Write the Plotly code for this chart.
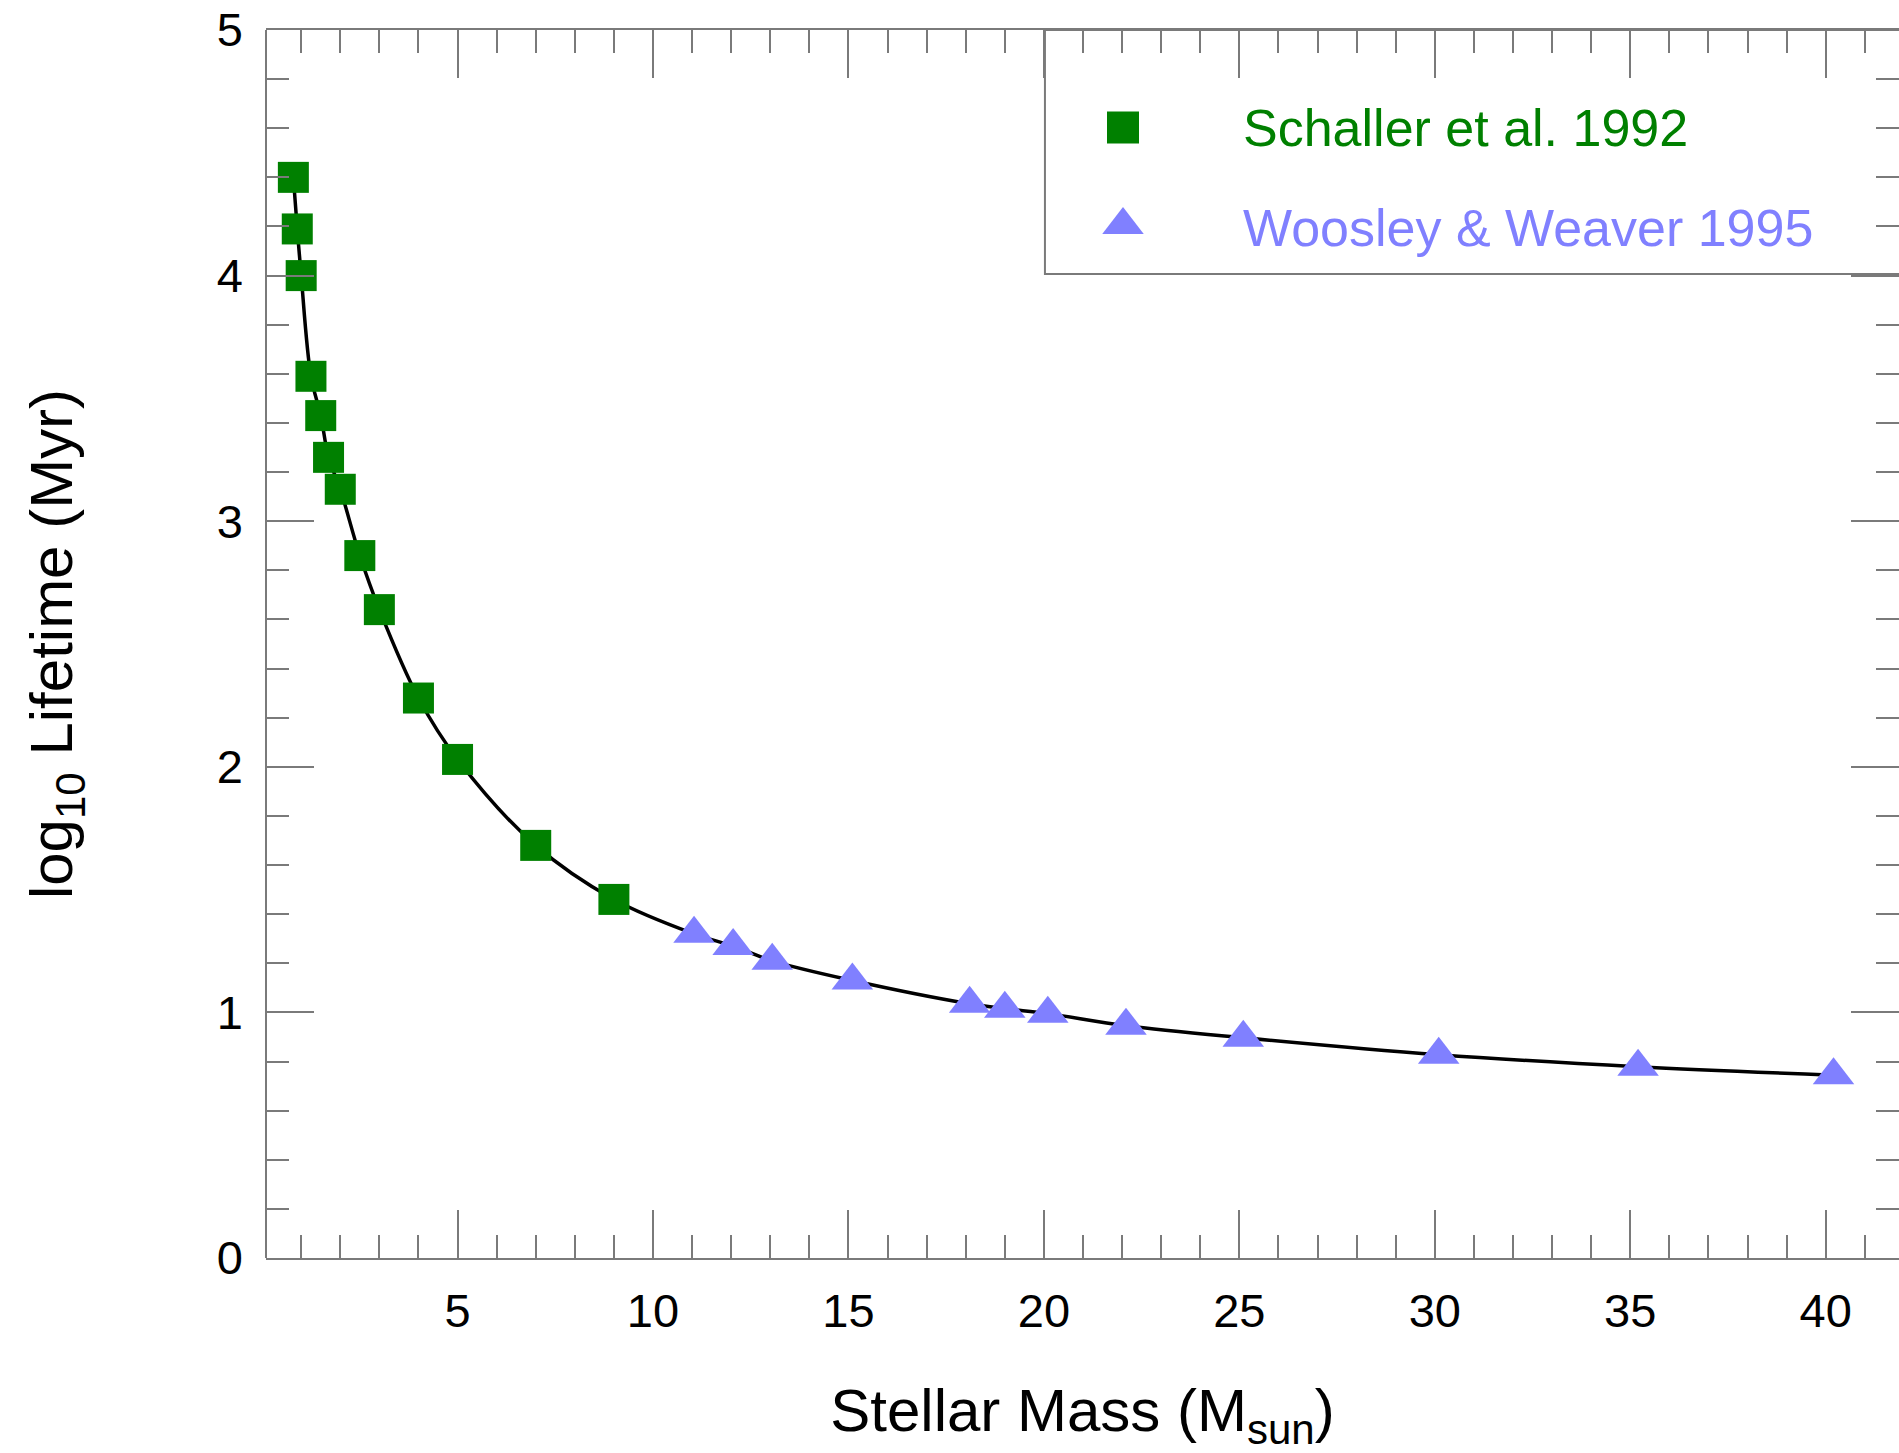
import plotly.graph_objects as go

# Data
schaller_mass = [0.8, 0.9, 1.0, 1.25, 1.5, 1.7, 2.0, 2.5, 3.0, 4.0, 5.0, 7.0, 9.0]
schaller_loglife = [4.40, 4.19, 4.00, 3.59, 3.43, 3.26, 3.13, 2.86, 2.64, 2.28, 2.03, 1.68, 1.46]

ww_mass = [11.05, 12.05, 13.05, 15.1, 18.1, 19.0, 20.1, 22.1, 25.1, 30.1, 35.2, 40.2]
ww_loglife = [1.32, 1.27, 1.21, 1.13, 1.035, 1.015, 0.995, 0.946, 0.897, 0.828, 0.779, 0.744]

legend_labels = ["Schaller et al. 1992", "Woosley & Weaver 1995"]

GREEN = "#008000"
BLUE = "#8080FF"
GREY = "#7a7a7a"
FONT = "Liberation Sans"

fig = go.Figure()

# Smooth curve through all points
curve_x = schaller_mass + ww_mass
curve_y = schaller_loglife + ww_loglife
fig.add_trace(go.Scatter(x=curve_x, y=curve_y, mode="lines",
                         line=dict(color="black", width=3.5, shape="spline", smoothing=1.0),
                         showlegend=False, hoverinfo="skip"))

fig.add_trace(go.Scatter(x=schaller_mass, y=schaller_loglife, mode="markers",
                         marker=dict(symbol="square", size=31, color=GREEN),
                         name=legend_labels[0], showlegend=False))
fig.add_trace(go.Scatter(x=ww_mass, y=ww_loglife, mode="markers",
                         marker=dict(symbol="triangle-up", size=36, color=BLUE),
                         name=legend_labels[1], showlegend=False))

# Custom legend (large symbols) drawn on a hidden overlay axis
fig.add_trace(go.Scatter(x=[0.5248], y=[0.9206], mode="markers", xaxis="x2", yaxis="y2",
                         marker=dict(symbol="square", size=32, color=GREEN),
                         showlegend=False, hoverinfo="skip"))
fig.add_trace(go.Scatter(x=[0.5248], y=[0.8412], mode="markers", xaxis="x2", yaxis="y2",
                         marker=dict(symbol="triangle-up", size=36, color=BLUE),
                         showlegend=False, hoverinfo="skip"))

fig.add_annotation(x=0.597, y=0.9206, xref="paper", yref="paper", text=legend_labels[0],
                   showarrow=False, xanchor="left", yanchor="middle",
                   font=dict(family=FONT, size=52, color=GREEN))
fig.add_annotation(x=0.597, y=0.8388, xref="paper", yref="paper", text=legend_labels[1],
                   showarrow=False, xanchor="left", yanchor="middle",
                   font=dict(family=FONT, size=52, color=BLUE))

# Legend box
fig.add_shape(type="rect", xref="paper", yref="paper", x0=0.477, x1=1.02, y0=0.8013, y1=1.0,
              line=dict(color=GREY, width=2), fillcolor="rgba(0,0,0,0)", layer="below")
# Left frame line
fig.add_shape(type="line", xref="paper", yref="paper", x0=0, x1=0, y0=0, y1=1,
              line=dict(color=GREY, width=2))

fig.update_layout(
    width=1899, height=1453,
    margin=dict(l=266, r=0, t=30, b=195),
    paper_bgcolor="white", plot_bgcolor="white",
    font=dict(family=FONT, color="black"),
    showlegend=False,
    xaxis=dict(
        range=[0.1, 41.875], tick0=0, dtick=5,
        ticks="inside", ticklen=48, tickwidth=2, tickcolor=GREY,
        showline=True, linecolor=GREY, linewidth=2, mirror="ticks",
        minor=dict(ticks="inside", ticklen=23, tickwidth=2, tickcolor=GREY, dtick=1, tick0=0),
        showgrid=False, zeroline=False,
        tickfont=dict(size=47, family=FONT, color="black"),
        ticklabelstandoff=11,
        title=dict(text="Stellar Mass (M<sub>sun</sub>)", font=dict(size=60, family=FONT, color="black"),
                   standoff=57),
    ),
    yaxis=dict(
        range=[0, 5], tick0=0, dtick=1,
        ticks="inside", ticklen=48, tickwidth=2, tickcolor=GREY,
        showline=False, mirror="ticks",
        minor=dict(ticks="inside", ticklen=23, tickwidth=2, tickcolor=GREY, dtick=0.2, tick0=0),
        showgrid=False, zeroline=False,
        tickfont=dict(size=47, family=FONT, color="black"),
        ticklabelstandoff=22,
        title=dict(text="log<sub>10</sub> Lifetime (Myr)", font=dict(size=60, family=FONT, color="black"),
                   standoff=124),
    ),
    xaxis2=dict(range=[0, 1], overlaying="x", visible=False, fixedrange=True),
    yaxis2=dict(range=[0, 1], overlaying="y", visible=False, fixedrange=True),
)

fig.write_html("out.html")
